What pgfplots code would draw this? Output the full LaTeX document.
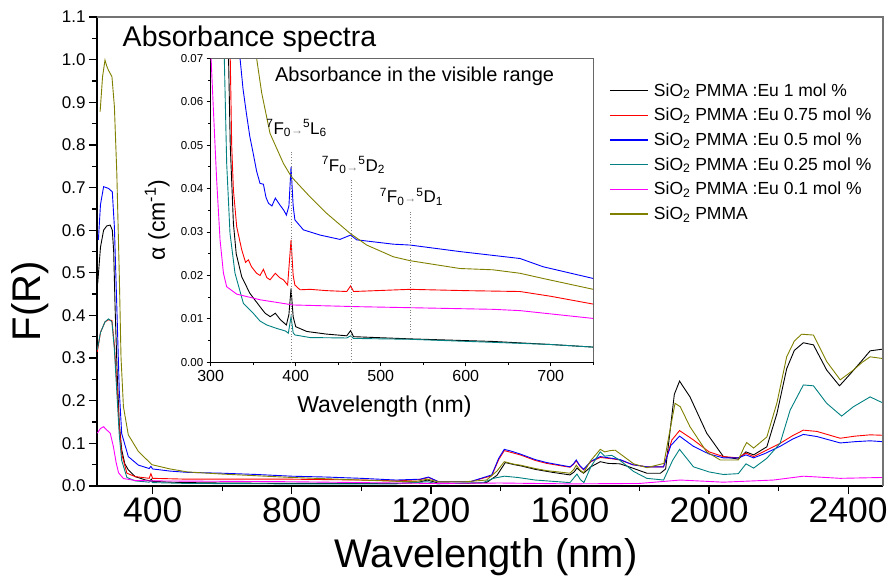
\documentclass[border=0pt]{standalone}
\usepackage{fontspec}
\setmainfont{Liberation Sans}
\usepackage{pgfplots}
\pgfplotsset{compat=1.18}
\definecolor{olivec}{RGB}{128,128,0}
\definecolor{tealc}{RGB}{0,128,128}
\definecolor{redc}{RGB}{255,0,0}
\definecolor{bluec}{RGB}{0,0,255}
\definecolor{magc}{RGB}{255,0,255}
\newcommand{\fs}[1]{\fontsize{#1}{#1}\selectfont}
% transition label: 7F0 -> 5X
\newcommand{\trans}[2]{\textsuperscript{7}F\textsubscript{0}{\color{gray}\fs{12}→}\textsuperscript{5}#1\textsubscript{#2}}
\begin{document}
\begin{tikzpicture}
\begin{axis}[
  scale only axis, width=786pt, height=469pt,
  xmin=240, xmax=2500, ymin=0, ymax=1.1,
  axis x line*=bottom, axis y line*=left,
  axis line style={line width=1.5pt},
  clip mode=individual,
  xtick={400,800,1200,1600,2000,2400},
  minor xtick={600,1000,1400,1800,2200},
  ytick={0,0.1,0.2,0.3,0.4,0.5,0.6,0.7,0.8,0.9,1.0,1.1},
  minor ytick={0.05,0.15,0.25,0.35,0.45,0.55,0.65,0.75,0.85,0.95,1.05},
  tick align=outside, major tick length=8pt, minor tick length=4.5pt,
  every tick/.style={line width=1.3pt, black},
  /pgf/number format/assume math mode=true,
  /pgf/number format/1000 sep={},
  xticklabel style={font=\fs{35.5}},
  yticklabel style={font=\fs{17}, /pgf/number format/fixed, /pgf/number format/fixed zerofill, /pgf/number format/precision=1},
  xlabel={Wavelength (nm)},
  xlabel style={font=\fs{40}, at={(axis description cs:0.495,-0.151)}, anchor=center},
  ylabel={F(R)},
  ylabel style={font=\fs{40}, at={(axis description cs:-0.0852,0.394)}, anchor=center},
  legend cell align=left,
  legend style={at={(axis description cs:0.652,0.863)}, anchor=north west, draw=none, fill=none,
    inner sep=0pt, row sep=6.5pt, font=\fs{17.5},
    /tikz/every odd column/.append style={column sep=3pt}},
  legend image code/.code={\draw[#1, line width=1.3pt] (0pt,0pt) -- (38pt,0pt);},
  every axis plot/.append style={line width=0.9pt},
]
% SiO2 PMMA :Eu 1 mol %
\addplot[draw=black] coordinates {(242,0.475) (250,0.56) (259,0.600) (268,0.610) (278,0.612) (284,0.600) (288,0.55) (292,0.42) (298,0.265) (304,0.147) (311,0.085) (320,0.052) (330,0.038) (350,0.022) (380,0.014) (393,0.012) (396,0.016) (400,0.011) (450,0.009) (500,0.008) (600,0.007) (800,0.006) (1000,0.006) (1100,0.006) (1160,0.008) (1190,0.014) (1220,0.007) (1300,0.006) (1360,0.008) (1390,0.025) (1414,0.055) (1440,0.050) (1460,0.047) (1500,0.039) (1550,0.032) (1600,0.026) (1612,0.033) (1620,0.042) (1630,0.035) (1639,0.030) (1660,0.045) (1687,0.057) (1710,0.053) (1744,0.052) (1780,0.042) (1821,0.030) (1860,0.030) (1875,0.040) (1888,0.131) (1900,0.215) (1915,0.246) (1945,0.209) (1993,0.124) (2041,0.069) (2084,0.063) (2106,0.080) (2128,0.073) (2166,0.092) (2195,0.170) (2223,0.275) (2245,0.318) (2271,0.336) (2300,0.331) (2338,0.272) (2375,0.235) (2405,0.262) (2435,0.290) (2463,0.317) (2499,0.321)};
\addlegendentry{SiO\textsubscript{2} PMMA :Eu 1 mol \%}
% 0.75 mol %
\addplot[draw=redc] coordinates {(241,0.315) (250,0.36) (263,0.385) (273,0.390) (283,0.388) (290,0.33) (297,0.24) (304,0.14) (311,0.075) (326,0.030) (350,0.022) (390,0.018) (395,0.029) (400,0.018) (500,0.016) (600,0.016) (800,0.016) (1000,0.014) (1100,0.012) (1169,0.015) (1193,0.020) (1222,0.010) (1313,0.010) (1375,0.024) (1395,0.062) (1411,0.083) (1430,0.079) (1457,0.073) (1500,0.060) (1533,0.053) (1600,0.044) (1610,0.051) (1618,0.059) (1628,0.047) (1639,0.038) (1660,0.057) (1687,0.067) (1720,0.064) (1744,0.061) (1780,0.050) (1821,0.045) (1869,0.045) (1893,0.108) (1915,0.130) (1955,0.108) (2000,0.080) (2041,0.069) (2084,0.066) (2106,0.077) (2128,0.069) (2160,0.082) (2204,0.100) (2240,0.118) (2271,0.131) (2310,0.128) (2377,0.112) (2420,0.117) (2463,0.120) (2499,0.119)};
\addlegendentry{SiO\textsubscript{2} PMMA :Eu 0.75 mol \%}
% 0.5 mol %
\addplot[draw=bluec] coordinates {(244,0.577) (250,0.66) (259,0.702) (273,0.698) (284,0.690) (290,0.608) (297,0.42) (304,0.225) (311,0.123) (330,0.069) (359,0.049) (390,0.041) (395,0.046) (400,0.040) (450,0.035) (500,0.032) (600,0.030) (700,0.027) (800,0.023) (900,0.021) (1000,0.018) (1100,0.014) (1169,0.016) (1193,0.021) (1222,0.010) (1313,0.010) (1375,0.026) (1395,0.065) (1411,0.086) (1430,0.082) (1457,0.075) (1500,0.062) (1533,0.055) (1600,0.045) (1610,0.052) (1618,0.061) (1628,0.048) (1639,0.039) (1660,0.058) (1687,0.069) (1720,0.065) (1744,0.062) (1780,0.050) (1821,0.045) (1869,0.045) (1890,0.095) (1915,0.117) (1955,0.093) (2000,0.075) (2041,0.066) (2084,0.066) (2106,0.073) (2128,0.066) (2160,0.076) (2204,0.093) (2240,0.110) (2271,0.121) (2310,0.116) (2377,0.101) (2420,0.104) (2463,0.106) (2499,0.104)};
\addlegendentry{SiO\textsubscript{2} PMMA :Eu 0.5 mol \%}
% 0.25 mol %
\addplot[draw=tealc] coordinates {(241,0.32) (250,0.36) (263,0.385) (273,0.392) (283,0.385) (290,0.32) (297,0.22) (304,0.12) (311,0.060) (326,0.020) (350,0.012) (390,0.009) (395,0.012) (400,0.008) (500,0.006) (800,0.005) (1000,0.005) (1100,0.005) (1190,0.010) (1220,0.005) (1350,0.008) (1380,0.018) (1411,0.023) (1450,0.020) (1500,0.014) (1600,0.008) (1612,0.020) (1620,0.028) (1630,0.015) (1640,0.008) (1660,0.045) (1687,0.080) (1700,0.070) (1720,0.072) (1744,0.060) (1783,0.034) (1821,0.018) (1869,0.014) (1895,0.060) (1915,0.086) (1955,0.045) (2000,0.033) (2041,0.027) (2084,0.029) (2106,0.052) (2128,0.042) (2166,0.065) (2204,0.100) (2233,0.178) (2271,0.237) (2300,0.235) (2338,0.194) (2381,0.164) (2415,0.186) (2463,0.209) (2499,0.195)};
\addlegendentry{SiO\textsubscript{2} PMMA :Eu 0.25 mol \%}
% 0.1 mol %
\addplot[draw=magc] coordinates {(241,0.124) (250,0.135) (259,0.139) (270,0.130) (278,0.124) (287,0.093) (295,0.055) (302,0.031) (316,0.0175) (350,0.013) (400,0.012) (600,0.011) (800,0.010) (1000,0.008) (1200,0.006) (1400,0.007) (1600,0.005) (1800,0.006) (1917,0.014) (2041,0.009) (2185,0.014) (2271,0.023) (2377,0.018) (2499,0.020)};
\addlegendentry{SiO\textsubscript{2} PMMA :Eu 0.1 mol \%}
% SiO2 PMMA
\addplot[draw=olivec] coordinates {(249,0.878) (256,0.96) (263,0.999) (268,0.985) (273,0.975) (283,0.960) (290,0.89) (297,0.733) (304,0.499) (309,0.303) (316,0.186) (330,0.120) (359,0.081) (398,0.050) (450,0.040) (500,0.033) (600,0.028) (700,0.024) (800,0.020) (900,0.017) (1000,0.014) (1100,0.011) (1160,0.011) (1190,0.016) (1220,0.010) (1300,0.010) (1360,0.014) (1390,0.035) (1411,0.057) (1440,0.051) (1457,0.049) (1500,0.041) (1533,0.036) (1600,0.030) (1612,0.040) (1618,0.049) (1628,0.038) (1639,0.031) (1660,0.060) (1687,0.086) (1700,0.080) (1715,0.083) (1730,0.084) (1760,0.066) (1783,0.052) (1821,0.043) (1870,0.053) (1885,0.120) (1902,0.194) (1917,0.186) (1945,0.139) (1993,0.080) (2032,0.061) (2084,0.061) (2100,0.090) (2108,0.102) (2128,0.089) (2166,0.115) (2195,0.195) (2223,0.303) (2245,0.340) (2266,0.356) (2300,0.354) (2338,0.292) (2377,0.249) (2415,0.272) (2440,0.290) (2463,0.303) (2499,0.299)};
\addlegendentry{SiO\textsubscript{2} PMMA}
\draw[black!55, line width=1.5pt] (rel axis cs:0,1) -- (rel axis cs:1,1) -- (rel axis cs:1,0);
\node[font=\fs{28.5}, anchor=base] at (axis description cs:0.194,0.937) {Absorbance spectra};
\end{axis}

\begin{axis}[
  at={(113.7pt,123.7pt)}, anchor=south west,
  scale only axis, width=382.6pt, height=304pt,
  xmin=300, xmax=750, ymin=0, ymax=0.07,
  axis x line*=bottom, axis y line*=left,
  axis line style={line width=1.2pt},
  clip mode=individual,
  scaled y ticks=false,
  xtick={300,400,500,600,700},
  minor xtick={350,450,550,650,750},
  ytick={0,0.01,0.02,0.03,0.04,0.05,0.06,0.07},
  minor ytick={0.005,0.015,0.025,0.035,0.045,0.055,0.065},
  tick align=outside, major tick length=4pt, minor tick length=2.5pt,
  every tick/.style={line width=1pt, black},
  /pgf/number format/assume math mode=true,
  xticklabel style={font=\fs{16}},
  yticklabel style={font=\fs{11.5}, /pgf/number format/fixed, /pgf/number format/fixed zerofill, /pgf/number format/precision=2},
  xlabel={Wavelength (nm)},
  xlabel style={font=\fs{23}, at={(axis description cs:0.454,-0.144)}, anchor=center},
  ylabel={α (cm\textsuperscript{-1})},
  ylabel style={font=\fs{23}, at={(axis description cs:-0.140,0.468)}, anchor=center},
  every axis plot/.append style={line width=0.9pt},
]
\addplot[draw=black] coordinates {(319,0.085) (321,0.070) (323,0.050) (326.7,0.032) (330,0.025) (336.5,0.0197) (346,0.0159) (358,0.0128) (364,0.0113) (370,0.0105) (376,0.0113) (382,0.0098) (389,0.0086) (392,0.011) (394.5,0.0170) (397,0.0105) (400,0.0082) (413,0.0071) (436,0.0065) (460,0.0061) (464.6,0.0073) (468,0.0059) (534,0.0054) (632,0.0048) (700,0.0041) (750,0.0035)};
\addplot[draw=redc] coordinates {(321,0.085) (323,0.070) (324.7,0.050) (326.7,0.0397) (330.6,0.0312) (336.5,0.0259) (341,0.0230) (344.3,0.0236) (348,0.022) (354,0.0205) (358,0.020) (362,0.0214) (366,0.0195) (369.8,0.019) (376,0.0205) (381,0.0195) (385.5,0.019) (390.5,0.0178) (394.5,0.0282) (397,0.020) (399,0.0178) (405,0.0167) (417,0.0168) (436.4,0.0165) (460,0.0163) (464.6,0.0176) (468,0.0163) (534.4,0.0168) (600,0.0165) (663.8,0.0163) (700,0.0152) (750,0.0134)};
\addplot[draw=bluec] coordinates {(332,0.080) (334.5,0.070) (338,0.063) (342,0.0573) (346,0.052) (350,0.0481) (354,0.044) (358,0.0412) (362,0.041) (365,0.038) (368,0.0366) (372,0.036) (376,0.0378) (381.5,0.0362) (386,0.0350) (389,0.0339) (392,0.036) (394.5,0.0450) (397,0.036) (399,0.0328) (409,0.0305) (428.6,0.0293) (452,0.0283) (464.6,0.0293) (471.7,0.0282) (514.8,0.0272) (534.4,0.0270) (593,0.0255) (663.8,0.0239) (691,0.0220) (750,0.0193)};
\addplot[draw=tealc] coordinates {(314,0.085) (316,0.070) (318.8,0.0458) (322.7,0.0297) (328.6,0.0205) (338.4,0.0136) (350,0.0113) (358,0.0095) (365.9,0.0086) (377.6,0.0078) (388,0.0072) (391.3,0.0067) (394.5,0.0105) (397,0.0068) (399,0.0063) (416.8,0.0057) (460,0.0056) (464.6,0.0061) (468,0.0055) (534,0.0053) (632,0.0046) (700,0.0041) (750,0.0035)};
\addplot[draw=magc] coordinates {(300,0.072) (303,0.0589) (307,0.042) (311,0.0282) (315,0.0205) (318.8,0.0174) (330.6,0.0157) (358,0.0144) (397,0.0132) (475.6,0.0128) (632,0.0122) (663.8,0.0119) (750,0.0101)};
\addplot[draw=olivec] coordinates {(350,0.078) (354,0.070) (360,0.062) (369.8,0.0527) (385.5,0.0458) (395,0.0427) (416.8,0.0381) (436.4,0.0343) (463.9,0.0297) (483.5,0.0270) (514.8,0.0243) (534.4,0.0234) (593,0.0216) (632,0.0213) (663.8,0.0205) (691,0.0193) (750,0.0168)};
\draw[gray, dotted, line width=0.8pt] (axis cs:395,0) -- (axis cs:395,0.049);
\draw[gray, dotted, line width=0.8pt] (axis cs:465,0) -- (axis cs:465,0.042);
\draw[gray, dotted, line width=0.8pt] (axis cs:535,0.0068) -- (axis cs:535,0.0351);
\draw[black!60, line width=1.2pt] (rel axis cs:0,1) -- (rel axis cs:1,1) -- (rel axis cs:1,0);
\node[font=\fs{20}, anchor=base] at (axis description cs:0.533,0.923) {Absorbance in the visible range};
\node[font=\fs{17}] at (axis cs:401,0.0539) {\trans{L}{6}};
\node[font=\fs{17}] at (axis cs:467.8,0.0454) {\trans{D}{2}};
\node[font=\fs{17}] at (axis cs:536,0.0381) {\trans{D}{1}};
\end{axis}
\pgfresetboundingbox
\path[use as bounding box] (-97pt,-96pt) rectangle (794pt,486pt);
\end{tikzpicture}
\end{document}
